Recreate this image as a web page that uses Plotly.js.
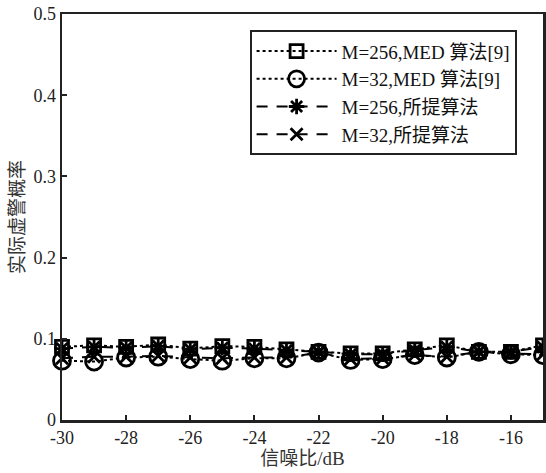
<!DOCTYPE html>
<html>
<head>
<meta charset="utf-8">
<script src="https://cdn.plot.ly/plotly-3.0.1.min.js"></script>
<style>html,body{margin:0;padding:0;background:#fff;}#chart{width:546px;height:473px;}</style>
</head>
<body>
<div id="chart"></div>
<script>
var snr = [-30,-29,-28,-27,-26,-25,-24,-23,-22,-21,-20,-19,-18,-17,-16,-15];
var med256 = [0.090,0.092,0.090,0.093,0.088,0.091,0.090,0.087,0.084,0.082,0.082,0.087,0.092,0.084,0.084,0.092];
var med32  = [0.073,0.072,0.077,0.078,0.075,0.073,0.076,0.076,0.083,0.074,0.075,0.080,0.077,0.084,0.081,0.080];
var prop256 = [0.088,0.090,0.089,0.091,0.087,0.089,0.088,0.086,0.084,0.081,0.081,0.086,0.090,0.084,0.084,0.090];
var prop32  = [0.076,0.078,0.078,0.079,0.077,0.076,0.077,0.077,0.083,0.075,0.076,0.080,0.078,0.084,0.082,0.081];
var names = ['M=256,MED 算法[9]','M=32,MED 算法[9]','M=256,所提算法','M=32,所提算法'];

var font = '"Liberation Serif","Times New Roman","Noto Sans CJK SC",serif';
function tr(y, name, dash, sym, size){
  return {x: snr, y: y, name: name, type:'scatter', mode:'lines+markers',
    line:{color:'#000', width:2, dash:dash},
    marker:{symbol:sym, size:size, color:'#000', line:{color:'#000', width:2.8}},
    cliponaxis:false};
}
var data = [
  tr(med256, names[0], 'dot', 'square-open', 13),
  tr(med32, names[1], 'dot', 'circle-open', 17),
  tr(prop256, names[2], '11px,9px', 'asterisk-open', 13),
  tr(prop32, names[3], '11px,9px', 'x-thin-open', 12)
];
var ax = {showline:true, mirror:true, linecolor:'#222', linewidth:2.5, ticks:'inside', ticklen:5, tickwidth:2, tickcolor:'#222', showgrid:false, zeroline:false, tickfont:{family:font, size:18, color:'#222'}};
var layout = {
  width:546, height:473, margin:{l:62, r:3, t:14, b:53},
  paper_bgcolor:'#fff', plot_bgcolor:'#fff',
  showlegend:true,
  xaxis: Object.assign({}, ax, {range:[-30,-15], tickvals:[-30,-28,-26,-24,-22,-20,-18,-16], ticktext:['-30','-28','-26','-24','-22','-20','-18','-16'],
    title:{text:'信噪比/dB', font:{family:font, size:19, color:'#333'}, standoff:2}}),
  yaxis: Object.assign({}, ax, {range:[0,0.5], tickvals:[0,0.1,0.2,0.3,0.4,0.5], ticktext:['0','0.1','0.2','0.3','0.4','0.5'],
    title:{text:'实际虚警概率', font:{family:font, size:19, color:'#333'}, standoff:4}}),
  legend:{x:0.39, y:0.96, xanchor:'left', yanchor:'top', bgcolor:'#fff', bordercolor:'#222', borderwidth:2,
    font:{family:font, size:19, color:'#111'}, itemwidth:80, tracegroupgap:0}
};
Plotly.newPlot('chart', data, layout, {displayModeBar:false, staticPlot:true});
</script>
</body>
</html>
